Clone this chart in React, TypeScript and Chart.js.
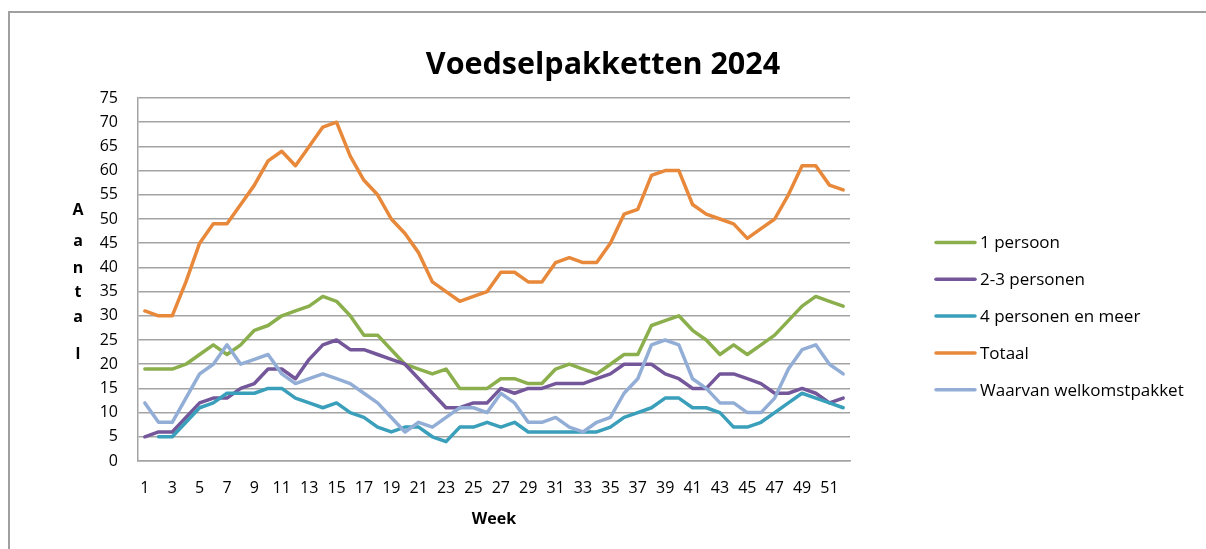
import React, { useEffect, useRef } from "react";
import { Chart, registerables } from "chart.js";

Chart.register(...registerables);

// ---- Data ----
const weeks = [
  "1", "2", "3", "4", "5", "6", "7", "8", "9", "10",
  "11", "12", "13", "14", "15", "16", "17", "18", "19", "20",
  "21", "22", "23", "24", "25", "26", "27", "28", "29", "30",
  "31", "32", "33", "34", "35", "36", "37", "38", "39", "40",
  "41", "42", "43", "44", "45", "46", "47", "48", "49", "50",
  "51", "52",
];

const seriesNames = [
  "1 persoon",
  "2-3 personen",
  "4 personen en meer",
  "Totaal",
  "Waarvan welkomstpakket",
];

const eenPersoon = [
  19, 19, 19, 20, 22, 24, 22, 24, 27, 28,
  30, 31, 32, 34, 33, 30, 26, 26, 23, 20,
  19, 18, 19, 15, 15, 15, 17, 17, 16, 16,
  19, 20, 19, 18, 20, 22, 22, 28, 29, 30,
  27, 25, 22, 24, 22, 24, 26, 29, 32, 34,
  33, 32,
];

const tweeDriePersonen = [
  5, 6, 6, 9, 12, 13, 13, 15, 16, 19,
  19, 17, 21, 24, 25, 23, 23, 22, 21, 20,
  17, 14, 11, 11, 12, 12, 15, 14, 15, 15,
  16, 16, 16, 17, 18, 20, 20, 20, 18, 17,
  15, 15, 18, 18, 17, 16, 14, 14, 15, 14,
  12, 13,
];

const vierPersonenEnMeer = [
  null, 5, 5, 8, 11, 12, 14, 14, 14, 15,
  15, 13, 12, 11, 12, 10, 9, 7, 6, 7,
  7, 5, 4, 7, 7, 8, 7, 8, 6, 6,
  6, 6, 6, 6, 7, 9, 10, 11, 13, 13,
  11, 11, 10, 7, 7, 8, 10, 12, 14, 13,
  12, 11,
];

const totaal = [
  31, 30, 30, 37, 45, 49, 49, 53, 57, 62,
  64, 61, 65, 69, 70, 63, 58, 55, 50, 47,
  43, 37, 35, 33, 34, 35, 39, 39, 37, 37,
  41, 42, 41, 41, 45, 51, 52, 59, 60, 60,
  53, 51, 50, 49, 46, 48, 50, 55, 61, 61,
  57, 56,
];

const welkomstpakket = [
  12, 8, 8, 13, 18, 20, 24, 20, 21, 22,
  18, 16, 17, 18, 17, 16, 14, 12, 9, 6,
  8, 7, 9, 11, 11, 10, 14, 12, 8, 8,
  9, 7, 6, 8, 9, 14, 17, 24, 25, 24,
  17, 15, 12, 12, 10, 10, 13, 19, 23, 24,
  20, 18,
];

const seriesColors = ["#8AAF4C", "#74579A", "#3A9FBA", "#E8883A", "#93AED6"];

const FONT = "'Open Sans', 'DejaVu Sans', sans-serif";
const GRID = "#a3a3a3";

// ---- Plugins ----
const framePlugin = {
  id: "frame",
  beforeDraw(chart: any) {
    const ctx = chart.ctx;
    ctx.save();
    ctx.fillStyle = "#ffffff";
    ctx.fillRect(0, 0, chart.width, chart.height);
    ctx.strokeStyle = "#a0a0a0";
    ctx.lineWidth = 2;
    ctx.strokeRect(9, 12, chart.width + 40, chart.height + 40);
    ctx.restore();
  },
};

const yTitlePlugin = {
  id: "stackedYTitle",
  afterDraw(chart: any) {
    const ctx = chart.ctx;
    ctx.save();
    ctx.font = `bold 16px ${FONT}`;
    ctx.fillStyle = "#000";
    ctx.textAlign = "center";
    ctx.textBaseline = "alphabetic";
    const letters = "Aantal".split("");
    const baselines = [215, 246, 273, 297, 322, 359];
    letters.forEach((l, i) => ctx.fillText(l, 78, baselines[i]));
    ctx.restore();
  },
};

const sideLegendPlugin = {
  id: "sideLegend",
  afterDraw(chart: any) {
    const ctx = chart.ctx;
    ctx.save();
    ctx.font = `17px ${FONT}`;
    ctx.textAlign = "left";
    ctx.textBaseline = "middle";
    chart.data.datasets.forEach((ds: any, i: number) => {
      const y = 242.5 + i * 36.8;
      ctx.strokeStyle = ds.borderColor;
      ctx.lineWidth = 3.5;
      ctx.lineCap = "round";
      ctx.beginPath();
      ctx.moveTo(936, y);
      ctx.lineTo(975, y);
      ctx.stroke();
      ctx.fillStyle = "#000";
      ctx.fillText(ds.label, 980, y + 1);
    });
    ctx.restore();
  },
};

export default function App() {
  const ref = useRef<HTMLCanvasElement>(null);

  useEffect(() => {
    const values = [eenPersoon, tweeDriePersonen, vierPersonenEnMeer, totaal, welkomstpakket];
    const chart = new Chart(ref.current as HTMLCanvasElement, {
      type: "line",
      data: {
        labels: weeks,
        datasets: values.map((d, i) => ({
          label: seriesNames[i],
          data: d as any,
          borderColor: seriesColors[i],
          backgroundColor: seriesColors[i],
          borderWidth: 3.5,
          pointRadius: 0,
          pointHoverRadius: 0,
          tension: 0,
          spanGaps: false,
          borderJoinStyle: "round" as const,
          borderCapStyle: "round" as const,
          order: values.length - i,
          yAxisID: "y",
        })),
      },
      options: {
        responsive: false,
        animation: false,
        devicePixelRatio: 1,
        layout: { padding: 0 },
        plugins: {
          legend: { display: false },
          tooltip: { enabled: false },
          title: {
            display: true,
            text: "Voedselpakketten 2024",
            color: "#000",
            font: { family: FONT, size: 30.5, weight: "bold", lineHeight: 1.2 },
            padding: { top: 47, bottom: 14.4 },
          },
        },
        scales: {
          x: {
            type: "category",
            offset: true,
            grid: { display: false, drawTicks: false },
            border: { display: true, color: GRID, width: 1.5 },
            ticks: {
              autoSkip: false,
              maxRotation: 0,
              minRotation: 0,
              padding: 18,
              color: "#000",
              font: { family: FONT, size: 16 },
              callback: function (this: any, v: any, i: number) {
                return i % 2 === 0 ? this.getLabelForValue(v) : "";
              },
            },
            title: {
              display: true,
              text: "Week",
              color: "#000",
              font: { family: FONT, size: 16, weight: "bold" },
              padding: { top: 4, bottom: 20 },
            },
            afterFit: (s: any) => {
              s.height = 88;
            },
          },
          y: {
            position: "left",
            min: 0,
            max: 75,
            ticks: {
              stepSize: 5,
              padding: 20,
              color: "#000",
              font: { family: FONT, size: 16 },
            },
            grid: { color: GRID, lineWidth: 1.5, drawTicks: false },
            border: { display: true, color: GRID, width: 1.5 },
            afterFit: (s: any) => {
              s.width = 138;
            },
          },
          legendSpace: {
            type: "linear",
            position: "right",
            display: true,
            grid: { display: false, drawTicks: false },
            border: { display: false },
            ticks: { display: false },
            afterFit: (s: any) => {
              s.width = 356;
            },
          },
        },
      },
      plugins: [framePlugin, yTitlePlugin, sideLegendPlugin],
    } as any);
    return () => chart.destroy();
  }, []);

  return (
    <div style={{ position: "fixed", left: 0, top: 0, width: 1206, height: 549, background: "#fff" }}>
      <canvas ref={ref} width={1206} height={549} style={{ display: "block", width: 1206, height: 549 }} />
    </div>
  );
}
